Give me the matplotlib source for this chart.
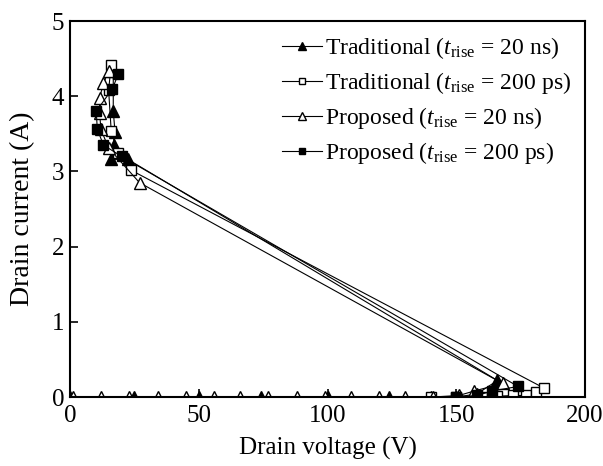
import numpy as np
import matplotlib
matplotlib.use("Agg")
from matplotlib import pyplot as plt

plt.rcParams['font.family'] = ['Liberation Serif', 'DejaVu Serif']
plt.rcParams['mathtext.fontset'] = 'custom'
plt.rcParams['mathtext.rm'] = 'Liberation Serif'
plt.rcParams['mathtext.it'] = 'Liberation Serif:italic'

# Traditional, t_rise = 20 ns (filled triangles)
trad20_v = [0, 25, 50, 74, 100, 124, 140, 150, 158, 166, 22.5, 16, 17, 17.5, 16.8, 16.8]
trad20_i = [0, 0, 0, 0, 0, 0, 0, 0, 0.04, 0.22, 3.16, 3.16, 3.35, 3.52, 3.8, 4.33]

# Traditional, t_rise = 200 ps (open squares)
trad200_v = [140, 150, 160, 166, 172, 177, 181, 184, 23.5, 18.5, 16, 15, 16]
trad200_i = [0, 0, 0, 0.01, 0.02, 0.02, 0.06, 0.12, 3.02, 3.25, 3.54, 4.08, 4.42]

# Proposed, t_rise = 20 ns (open triangles)
prop20_v = [1, 12, 23, 34, 45, 56, 66, 77, 88, 99, 109, 120, 130, 141, 151, 157, 168,
            27, 15, 12, 11.5, 11.5, 13, 15]
prop20_i = [0, 0, 0, 0, 0, 0, 0, 0, 0, 0, 0, 0, 0, 0, 0.02, 0.08, 0.18,
            2.85, 3.31, 3.56, 3.78, 3.98, 4.17, 4.33]

# Proposed, t_rise = 200 ps (filled squares)
prop200_v = [150, 158, 164, 174, 20, 13, 10.6, 10.2, 16.5, 18.8]
prop200_i = [0, 0.02, 0.08, 0.14, 3.2, 3.35, 3.56, 3.8, 4.1, 4.3]

fig = plt.figure(figsize=(6.03, 4.66), dpi=100)
ax = fig.add_axes([70/603, 1-397/466, 515/603, 376/466])

kw = dict(color='black', lw=0.8, mec='black')
ax.plot(trad20_v, trad20_i, marker='^', ms=9, mfc='black',
        label=r'Traditional ($t_{\mathrm{rise}}$ = 20 ns)', **kw)
ax.plot(trad200_v, trad200_i, marker='s', ms=7, mfc='white',
        label=r'Traditional ($t_{\mathrm{rise}}$ = 200 ps)', **kw)
ax.plot(prop20_v, prop20_i, marker='^', ms=9, mfc='white',
        label=r'Proposed ($t_{\mathrm{rise}}$ = 20 ns)', **kw)
ax.plot(prop200_v, prop200_i, marker='s', ms=7, mfc='black',
        label=r'Proposed ($t_{\mathrm{rise}}$ = 200 ps)', **kw)

ax.set_xlim(0, 200)
ax.set_ylim(0, 5)
ax.set_xticks([0, 50, 100, 150, 200])
ax.set_yticks([0, 1, 2, 3, 4, 5])
ax.tick_params(direction='in', length=6, width=1.2, labelsize=18, pad=4)
ax.tick_params(axis='x', pad=6)
for s in ax.spines.values():
    s.set_linewidth(1.5)
ax.set_xlabel('Drain voltage (V)', fontsize=18, labelpad=7)
ax.set_ylabel('Drain current (A)', fontsize=20, labelpad=12)

leg = ax.legend(loc='upper right', frameon=False, fontsize=17, handlelength=1.7,
                handletextpad=0.1, labelspacing=0.38, markerscale=0.7,
                borderaxespad=0.3, borderpad=0.3)

fig.savefig('out.png', dpi=100)
